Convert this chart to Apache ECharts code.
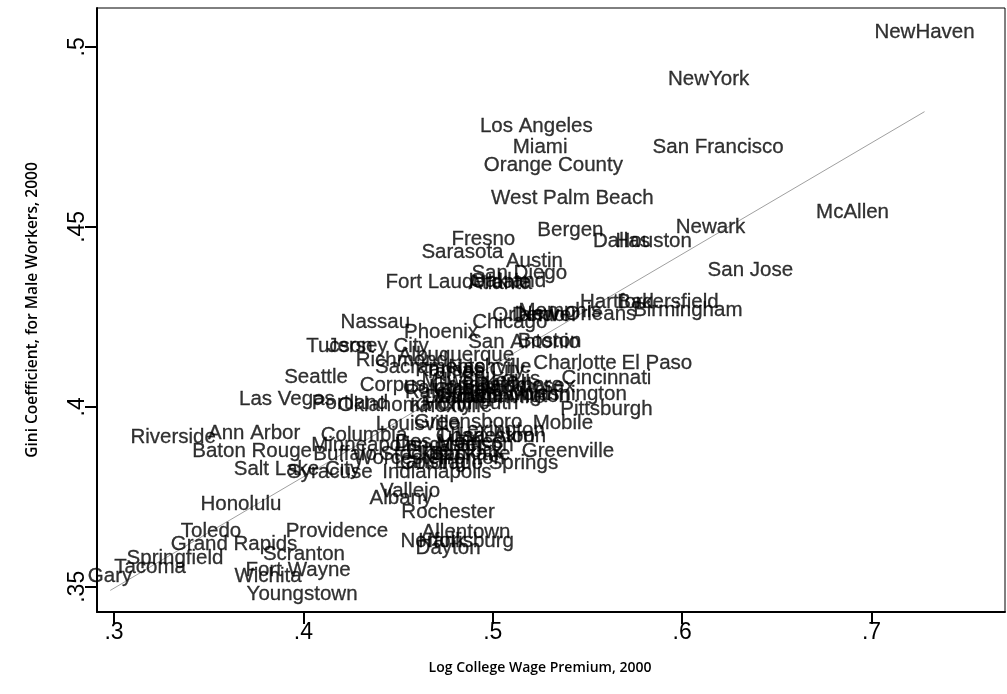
<!DOCTYPE html>
<html>
<head>
<meta charset="utf-8">
<script src="https://cdn.jsdelivr.net/npm/echarts@6/dist/echarts.min.js"></script>
<style>html,body{margin:0;padding:0;background:#fff}#c{width:1007px;height:694px}</style>
</head>
<body>
<div id="c"></div>
<script>
const cities = ["NewHaven","NewYork","Los Angeles","Miami","San Francisco","Orange County","West Palm Beach","McAllen","Newark","Bergen","Dallas","Houston","Fresno","Sarasota","Austin","San Diego","San Jose","Fort Lauderdale","Oakland","Atlanta","Hartford","Bakersfield","Birmingham","New Orleans","Memphis","Denver","Orlando","Chicago","Nassau","Phoenix","San Antonio","Boston","Tucson","Jersey City","Albuquerque","Richmond","Charlotte","El Paso","Seattle","Cincinnati","Corpus Christi","Washington","Las Vegas","Portland","Oklahoma City","Knoxville","Pittsburgh","Louisville","Greensboro","Mobile","Riverside","Ann Arbor","Baton Rouge","Salt Lake City","Syracuse","Columbia","Minneapolis","Buffalo","Greenville","Colorado Springs","Indianapolis","Vallejo","Albany","Rochester","Honolulu","Toledo","Providence","Allentown","Grand Rapids","Springfield","Scranton","Norfolk","Harrisburg","Dayton","Tacoma","Gary","Fort Wayne","Wichita","Youngstown","Sacramento","Kansas City","Tampa","Nashville","Milwaukee","St. Louis","Baltimore","Middlesex","Columbus","Cleveland","Omaha","Jacksonville","Detroit","Fort Worth","Raleigh","Monmouth","Tulsa","Charleston","Lancaster","Des Moines","Madison","Spokane","Little Rock","Stockton","Worcester","Lansing","Trenton","Akron","Lexington","Wilmington"];
const wagePremium = [0.728,0.614,0.523,0.525,0.619,0.532,0.542,0.690,0.615,0.541,0.568,0.585,0.495,0.484,0.522,0.514,0.636,0.4816,0.508,0.504,0.5656,0.5925,0.603,0.5445,0.5355,0.5276,0.519,0.509,0.438,0.4727,0.5165,0.530,0.419,0.4394,0.4806,0.452,0.5434,0.5867,0.4067,0.560,0.464,0.5424,0.3913,0.4246,0.4536,0.478,0.560,0.4605,0.487,0.537,0.3312,0.374,0.3729,0.3966,0.414,0.432,0.433,0.422,0.5397,0.4927,0.4705,0.4563,0.4515,0.4764,0.367,0.3512,0.4177,0.4859,0.3634,0.3322,0.4003,0.4684,0.4859,0.4764,0.319,0.2979,0.3972,0.3813,0.3993,0.467,0.488,0.480,0.4985,0.488,0.504,0.514,0.519,0.477,0.493,0.488,0.4985,0.480,0.509,0.472,0.488,0.483,0.496,0.472,0.477,0.4906,0.488,0.480,0.4616,0.451,0.467,0.488,0.514,0.504,0.514];
const gini = [0.504,0.491,0.478,0.472,0.472,0.467,0.458,0.454,0.450,0.449,0.446,0.446,0.4464,0.4428,0.4403,0.4372,0.4378,0.4347,0.435,0.4344,0.4289,0.4289,0.4267,0.4256,0.4264,0.4253,0.4253,0.4236,0.4236,0.4206,0.418,0.4183,0.4167,0.4167,0.4142,0.413,0.4122,0.412,0.4083,0.408,0.4061,0.4036,0.402,0.4011,0.4003,0.400,0.3992,0.395,0.3956,0.3953,0.3914,0.3925,0.3875,0.3825,0.3817,0.3922,0.3894,0.3867,0.3875,0.3844,0.3817,0.3764,0.3747,0.3708,0.3728,0.3653,0.3653,0.365,0.3617,0.358,0.3589,0.3625,0.3625,0.3608,0.3553,0.3528,0.3547,0.3528,0.3478,0.411,0.410,0.4097,0.411,0.407,0.4075,0.406,0.4056,0.405,0.4047,0.403,0.4025,0.4025,0.4036,0.404,0.401,0.3917,0.3917,0.3894,0.390,0.3894,0.3867,0.3875,0.3867,0.3856,0.3847,0.3858,0.3917,0.3936,0.403];
const fitX = [0.298, 0.728];
const fitY = [0.349, 0.482];
const xTicks = [0.3, 0.4, 0.5, 0.6, 0.7];
const yTicks = [0.35, 0.4, 0.45, 0.5];

const fmt = v => String(+v.toFixed(2)).replace(/^0/, '');
const pts = cities.map((c, i) => ({ value: [wagePremium[i], gini[i]], name: c }));
const chart = echarts.init(document.getElementById('c'), null, { renderer: 'canvas' });
chart.setOption({
  animation: false,
  backgroundColor: '#fff',
  grid: { left: 97, right: 2, top: 8, bottom: 82, show: true, borderColor: '#000', borderWidth: 1, backgroundColor: '#fff' },
  xAxis: {
    type: 'value', min: 0.291, max: 0.7705,
    name: 'Log College Wage Premium, 2000', nameLocation: 'middle', nameGap: 49,
    nameTextStyle: { fontFamily: 'Open Sans', fontSize: 14, fontWeight: 600, color: '#000', padding: [0, 22, 0, 0] },
    axisLine: { show: true, onZero: false, lineStyle: { color: '#000', width: 2 } },
    axisTick: { show: true, length: 12, customValues: xTicks, lineStyle: { color: '#000', width: 2 } },
    axisLabel: { customValues: xTicks, formatter: fmt, margin: 9, fontFamily: 'Liberation Sans', fontSize: 23, color: '#000' },
    splitLine: { show: false }
  },
  yAxis: {
    type: 'value', min: 0.343, max: 0.5108,
    name: 'Gini Coefficient, for Male Workers, 2000', nameLocation: 'middle', nameGap: 56, nameRotate: 90,
    nameTextStyle: { fontFamily: 'Open Sans', fontSize: 15.5, fontWeight: 600, color: '#000' },
    axisLine: { show: true, onZero: false, lineStyle: { color: '#000', width: 2 } },
    axisTick: { show: true, length: 12, customValues: yTicks, lineStyle: { color: '#000', width: 2 } },
    axisLabel: { customValues: yTicks, formatter: fmt, rotate: 90, margin: 8, fontFamily: 'Liberation Sans', fontSize: 23, color: '#000' },
    splitLine: { show: false }
  },
  series: [
    {
      type: 'line', z: 1,
      data: fitX.map((x, i) => [x, fitY[i]]),
      showSymbol: false, symbol: 'none',
      lineStyle: { color: '#a0a0a0', width: 1 }
    },
    {
      type: 'scatter', z: 2,
      data: pts,
      symbolSize: 1,
      itemStyle: { color: 'rgba(0,0,0,0)' },
      label: {
        show: true, position: 'inside', formatter: p => p.name,
        fontFamily: 'Liberation Sans', fontSize: 20.5, color: '#000',
        textBorderColor: '#000', textBorderWidth: 0.3
      },
      labelLayout: { hideOverlap: false }
    }
  ]
});
</script>
</body>
</html>
